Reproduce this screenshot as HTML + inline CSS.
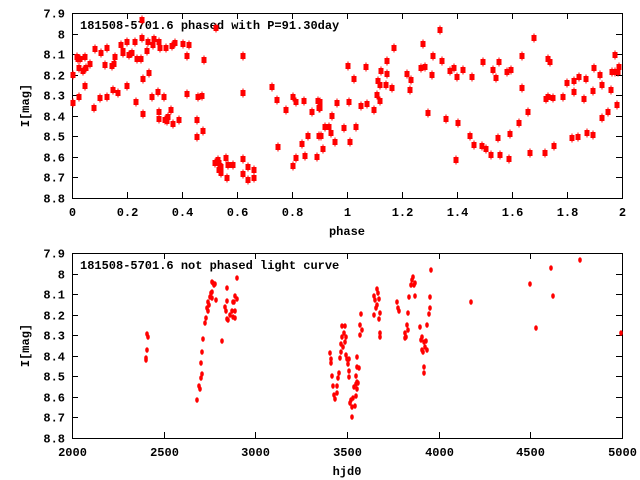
<!DOCTYPE html>
<html><head><meta charset="utf-8"><style>
html,body{margin:0;padding:0;background:#fff;}
svg{display:block;}
text{font-family:"Liberation Mono",monospace;font-weight:bold;font-size:12px;fill:#000;}
</style></head><body>
<svg id="s" width="640" height="480" viewBox="0 0 640 480" xmlns="http://www.w3.org/2000/svg">
<rect x="0" y="0" width="640" height="480" fill="#fff"/>
<g id="g"></g>
</svg>
<script>
var NS="http://www.w3.org/2000/svg",g=document.getElementById('g');
function el(t,a,txt){var e=document.createElementNS(NS,t);for(var k in a)e.setAttribute(k,a[k]);if(txt!=null)e.textContent=txt;g.appendChild(e);return e;}
var X0=72,X1=622;
function axes(top,bot,xt,xl){
 el('rect',{x:X0+.5,y:top+.5,width:X1-X0,height:bot-top,fill:'none',stroke:'#000','stroke-width':1});
 var labs=['7.9','8','8.1','8.2','8.3','8.4','8.5','8.6','8.7','8.8'];
 for(var i=0;i<10;i++){var y=Math.round(top+(bot-top)*i/9)+.5;
  el('line',{x1:X0,y1:y,x2:X0+6,y2:y,stroke:'#000'});el('line',{x1:X1-6,y1:y,x2:X1,y2:y,stroke:'#000'});
  el('text',{x:65,y:y+4,'text-anchor':'end'},labs[i]);}
 for(var j=0;j<xt.length;j++){var x=Math.round(X0+(X1-X0)*j/(xt.length-1))+.5;
  el('line',{x1:x,y1:top,x2:x,y2:top+6,stroke:'#000'});el('line',{x1:x,y1:bot-6,x2:x,y2:bot,stroke:'#000'});
  el('text',{x:x,y:bot+18,'text-anchor':'middle'},xt[j]);}
 el('text',{x:(X0+X1)/2,y:bot+37,'text-anchor':'middle'},xl);
 el('text',{x:0,y:0,'text-anchor':'middle',transform:'translate(29,'+((top+bot)/2)+') rotate(-90)'},'I[mag]');
}
axes(13,198,['0','0.2','0.4','0.6','0.8','1','1.2','1.4','1.6','1.8','2'],'phase');
axes(253,438,['2000','2500','3000','3500','4000','4500','5000'],'hjd0');
el('text',{x:80,y:29},'181508-5701.6 phased with P=91.30day');
el('text',{x:80,y:269},'181508-5701.6 not phased light curve');
var A=[73,75,73,103,78,59,77,57,80,59,79,68,83,71,86,68,85,57,90,64,85,86,79,97,95,49,94,108,101,53,100,98,105,65,107,97,107,48,112,66,114,64,115,57,113,90,118,93,121,45,123,51,123,53,127,42,127,86,129,55,132,53,135,42,136,102,137,59,141,59,142,38,142,20,143,114,143,79,147,51,148,42,149,73,152,97,153,45,154,39,158,92,159,112,159,119,159,42,160,48,164,97,166,48,165,120,167,121,168,117,171,110,172,46,173,124,175,43,179,120,183,44,187,56,187,94,189,45,197,120,197,137,198,97,202,96,203,131,204,60,216,28,215,163,218,160,219,163,220,166,221,167,219,170,221,173,226,158,228,165,227,178,233,165,243,159,243,56,243,93,243,174,248,167,248,180,254,170,254,178,272,87,277,100,278,147,286,110,293,97,293,166,296,102,296,158,302,144,304,101,305,156,308,136,312,112,318,101,317,157,319,108,319,136,
320,102,320,108,321,136,323,149,325,127,329,127,331,133,332,116,335,142,337,103,344,128,348,66,349,102,350,142,354,79,356,127,361,106,366,67,367,104,374,110,377,95,378,81,380,85,380,101,381,71,386,85,387,74,387,61,392,88,394,48,407,74,410,90,411,80,421,68,423,44,425,67,428,113,432,75,433,56,440,30,442,61,446,119,450,71,454,68,457,77,456,160,458,123,463,70,470,136,472,77,474,145,483,62,482,146,486,149,491,155,493,70,496,78,498,138,499,62,500,155,507,72,509,159,510,134,511,70,519,123,522,56,522,88,528,112,530,153,534,38,545,153,546,99,548,59,548,97,550,62,553,98,554,146,563,97,567,83,572,138,574,81,574,92,578,137,579,77,584,99,586,79,587,133,593,91,593,135,594,68,600,75,602,118,602,85,608,112,611,90,612,72,615,55,615,72,617,105,618,72,619,67];
for(var i=0;i<A.length;i+=2){var x=A[i],y=A[i+1];
 el('line',{x1:x,y1:y-4.5,x2:x,y2:y+4.5,stroke:'#f00','stroke-width':1});
 el('rect',{x:x-2.5,y:y-3,width:5,height:6,fill:'#f00'});}
var B=[147,334,148,337,147,350,146,358,146,360,197,400,199,386,200,389,201,378,202,374,201,363,202,352,203,339,205,323,206,318,207,308,208,311,208,302,209,305,210,297,211,293,212,282,213,283,214,285,215,284,212,292,212,298,216,300,222,341,225,307,226,311,227,319,228,320,227,288,227,301,230,315,232,311,233,317,235,311,235,318,233,302,234,302,235,296,237,299,237,278,
330,353,331,359,331,363,332,376,333,386,334,395,335,399,337,386,337,393,338,378,339,373,340,358,341,352,341,344,342,337,343,347,342,326,345,326,344,333,346,337,345,342,346,355,347,359,348,364,349,359,349,371,349,377,350,403,351,400,352,407,352,417,353,398,355,406,354,387,356,384,357,382,358,383,356,376,357,367,359,368,357,357,356,396,357,389,360,335,360,325,362,330,361,314,374,296,375,300,376,308,377,305,377,289,378,293,379,299,379,319,380,313,380,333,380,337,374,315,397,302,398,308,399,311,407,325,408,313,408,330,409,297,405,333,405,338,406,337,411,285,412,280,413,277,414,285,415,283,415,296,420,327,421,340,422,337,422,350,423,352,424,342,425,347,426,341,427,350,427,325,424,367,424,373,429,314,430,308,430,297,431,270,471,302,530,284,536,328,551,268,553,296,580,260,621,333];
for(var i=0;i<B.length;i+=2){el('ellipse',{cx:B[i],cy:B[i+1],rx:1.8,ry:2.8,fill:'#f00'});}
</script>
</body></html>
